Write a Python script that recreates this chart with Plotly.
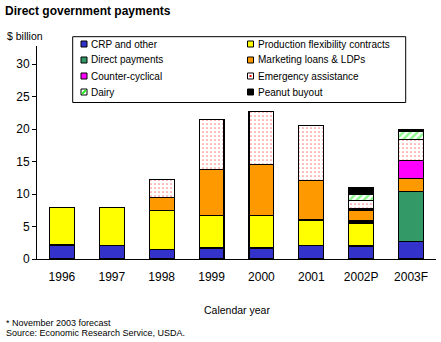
import plotly.graph_objects as go

# Calendar years on the x axis
years = ["1996", "1997", "1998", "1999", "2000", "2001", "2002P", "2003F"]

# Payments by program, $ billion
crp_other = [2.15, 2.05, 1.5, 1.7, 1.7, 2.05, 2.0, 2.75]
pfc = [5.85, 5.95, 6.0, 5.05, 5.05, 3.95, 3.55, 0.0]
direct_pay = [0.0, 0.0, 0.0, 0.0, 0.0, 0.0, 0.3, 7.7]
mkt_loans = [0.0, 0.0, 2.0, 7.0, 7.75, 6.15, 1.7, 1.95]
counter_cyc = [0.0, 0.0, 0.0, 0.0, 0.0, 0.0, 0.2, 2.8]
emergency = [0.0, 0.0, 2.8, 7.75, 8.2, 8.45, 1.25, 3.25]
dairy = [0.0, 0.0, 0.0, 0.0, 0.0, 0.0, 1.0, 1.15]
peanut = [0.0, 0.0, 0.0, 0.0, 0.0, 0.0, 0.95, 0.4]

FONT = "Liberation Sans, Arial, sans-serif"

series = [
    ("CRP and other", crp_other, "#3333CC", None),
    ("Production flexibility contracts", pfc, "#FFFF00", None),
    ("Direct payments", direct_pay, "#339966", None),
    ("Marketing loans & LDPs", mkt_loans, "#FF9900", None),
    ("Counter-cyclical", counter_cyc, "#FF00FF", None),
    ("Emergency assistance", emergency, "#FFFFFF",
     dict(shape=".", fgcolor="#FF0000", bgcolor="#FFFFFF", size=4, solidity=0.14)),
    ("Dairy", dairy, "#33FF33",
     dict(shape="/", fgcolor="#22EE22", bgcolor="#FFFFFF", size=5, solidity=0.5)),
    ("Peanut buyout", peanut, "#000000", None),
]

fig = go.Figure()

for name, vals, color, pattern in series:
    marker = dict(color=color, line=dict(color="black", width=1.1))
    if pattern:
        marker["pattern"] = pattern
    fig.add_trace(go.Bar(x=years, y=vals, name=name, marker=marker,
                         showlegend=False))

L, R, T, B = 37, 5, 46, 83
W, H = 441, 342
pw, ph = W - L - R, H - T - B


def px_x(x):
    return (x - L) / pw


def px_y(y):
    return (H - B - y) / ph


def rect(x0, y0, x1, y1, fill, line="black", lw=1):
    return dict(type="rect", xref="paper", yref="paper",
                x0=px_x(x0), x1=px_x(x1), y0=px_y(y0), y1=px_y(y1),
                fillcolor=fill, line=dict(color=line, width=lw),
                layer="above")


# Two-column key box above the bars
shapes = [rect(72.7, 36.7, 405.7, 102.5, "white")]
annotations = []
col_key_x = [81, 247.5]
col_text_x = [89, 255.5]
row_y = [44, 60, 76, 92]
for i, (name, vals, color, pattern) in enumerate(series):
    col, row = i % 2, i // 2
    kx, ky = col_key_x[col], row_y[row]
    shapes.append(rect(kx, ky - 3, kx + 6, ky + 3,
                       "white" if pattern else color))
    if name == "Emergency assistance":
        shapes.append(rect(kx + 2, ky - 1, kx + 4, ky + 1, "#FF0000",
                           line="#FF0000", lw=0))
    elif name == "Dairy":
        shapes.append(dict(type="line", xref="paper", yref="paper",
                           x0=px_x(kx + 1), y0=px_y(ky + 2),
                           x1=px_x(kx + 5), y1=px_y(ky - 2),
                           line=dict(color="#22EE22", width=2),
                           layer="above"))
    annotations.append(dict(text=name, xref="paper", yref="paper",
                            x=px_x(col_text_x[col]), y=px_y(ky),
                            xanchor="left", yanchor="middle",
                            showarrow=False, font=dict(size=10)))

annotations += [
    dict(text="$ billion", xref="paper", yref="paper",
         x=px_x(5), y=px_y(36), xanchor="left", yanchor="middle",
         showarrow=False, font=dict(size=10.5)),
    dict(text="Calendar year", xref="paper", yref="paper",
         x=px_x(237), y=px_y(310), xanchor="center", yanchor="middle",
         showarrow=False, font=dict(size=10.5)),
    dict(text="* November 2003 forecast", xref="paper", yref="paper",
         x=px_x(4), y=px_y(323), xanchor="left", yanchor="middle",
         showarrow=False, font=dict(size=9)),
    dict(text="Source: Economic Research Service, USDA.", xref="paper",
         yref="paper", x=px_x(4), y=px_y(333), xanchor="left",
         yanchor="middle", showarrow=False, font=dict(size=9)),
]

fig.update_layout(
    width=W, height=H,
    margin=dict(l=L, r=R, t=T, b=B, autoexpand=False),
    paper_bgcolor="white", plot_bgcolor="white",
    barmode="stack", bargap=0.5, showlegend=False,
    font=dict(family=FONT, size=12, color="black"),
    title=dict(text="<b>Direct government payments</b>",
               font=dict(family=FONT, size=12, color="black"),
               x=5 / W, xanchor="left", y=1 - 11 / H, yanchor="middle"),
    xaxis=dict(showline=True, linecolor="black", linewidth=1,
               ticks="", showgrid=False, tickfont=dict(size=12),
               ticklabelstandoff=7),
    yaxis=dict(range=[0, 32.8], tickvals=[0, 5, 10, 15, 20, 25, 30],
               showline=True, linecolor="black", linewidth=1,
               ticks="outside", ticklen=4, tickcolor="black",
               showgrid=False, zeroline=False, tickfont=dict(size=12)),
    shapes=shapes,
    annotations=annotations,
)

fig.write_html("out.html")
